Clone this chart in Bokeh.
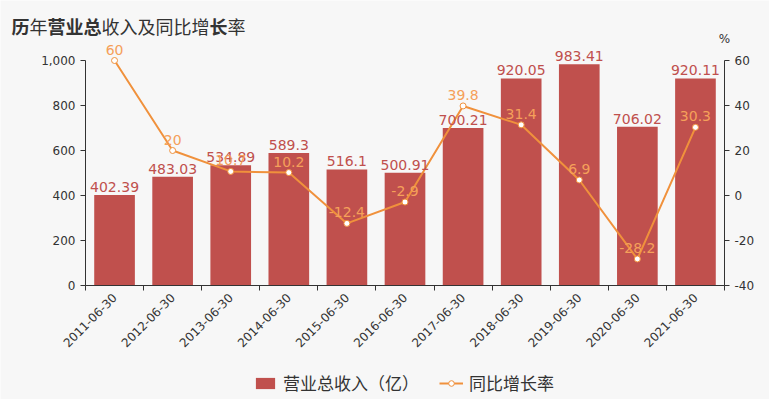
from math import pi
from bokeh.plotting import figure
from bokeh.models import (ColumnDataSource, Range1d, LinearAxis, FixedTicker,
                          NumeralTickFormatter, Label, LabelSet, Legend, LegendItem)
from bokeh.core.properties import value
from bokeh.embed import file_html
from bokeh.resources import INLINE

categories = ["2011-06-30", "2012-06-30", "2013-06-30", "2014-06-30", "2015-06-30",
              "2016-06-30", "2017-06-30", "2018-06-30", "2019-06-30", "2020-06-30",
              "2021-06-30"]
revenue = [402.39, 483.03, 534.89, 589.3, 516.1, 500.91, 700.21, 920.05, 983.41, 706.02, 920.11]
growth = [60, 20, 10.7, 10.2, -12.4, -2.9, 39.8, 31.4, 6.9, -28.2, 30.3]
left_ticks = [0, 200, 400, 600, 800, 1000]
right_ticks = [-40, -20, 0, 20, 40, 60]
title_parts = ["历", "年", "营业总", "收入及同比增", "长", "率"]
title_weights = ["bold", "normal", "bold", "normal", "bold", "normal"]

BAR = "#c0504d"
LINE = "#f0913c"
BG = "#f7f7f7"
TXT = "#333333"
NUM_FONT = "DejaVu Sans"
CJK_FONT = "Noto Sans CJK SC"

# canvas and axis placement (pixels)
W, H = 769, 399
PX_L, PX_R, PY_T, PY_B = 85, 724, 60, 285

n = len(categories)
centers = [i + 0.5 for i in range(n)]
bounds = [i for i in range(n + 1)]
lmin, lmax = left_ticks[0], left_ticks[-1]
rmin, rmax = right_ticks[0], right_ticks[-1]

xpp = n / (PX_R - PX_L)
lpp = (lmax - lmin) / (PY_B - PY_T)
rpp = (rmax - rmin) / (PY_B - PY_T)

src = ColumnDataSource(dict(
    x=centers, rev=revenue, gr=growth,
    rev_lbl=[("%g" % v) for v in revenue],
    gr_lbl=[("%g" % v) for v in growth],
))

p = figure(width=W, height=H, output_backend="svg", toolbar_location=None,
           x_range=Range1d(-PX_L * xpp, n + (W - PX_R) * xpp),
           y_range=Range1d(lmin - (H - PY_B) * lpp, lmax + PY_T * lpp),
           x_axis_location=None, y_axis_location=None,
           min_border=0, min_border_left=0, min_border_right=0,
           min_border_top=0, min_border_bottom=0)
p.background_fill_color = BG
p.border_fill_color = BG
p.outline_line_color = None
p.grid.visible = False
p.extra_y_ranges = {"pct": Range1d(rmin - (H - PY_B) * rpp, rmax + PY_T * rpp)}


def style_axis(ax):
    ax.axis_line_color = TXT
    ax.major_tick_line_color = TXT
    ax.major_label_text_font = NUM_FONT
    ax.major_label_text_font_size = "12px"
    ax.major_label_text_color = TXT


xa = LinearAxis(ticker=FixedTicker(ticks=centers, minor_ticks=bounds),
                fixed_location=lmin, bounds=(0, n))
style_axis(xa)
xa.major_label_overrides = {c: lab for c, lab in zip(centers, categories)}
xa.major_tick_out = 0
xa.major_tick_in = 0
xa.minor_tick_out = 5
xa.minor_tick_in = 0
xa.minor_tick_line_color = TXT
xa.major_label_orientation = pi / 4
p.add_layout(xa, "below")

ya = LinearAxis(ticker=FixedTicker(ticks=left_ticks), fixed_location=0,
                bounds=(lmin, lmax), formatter=NumeralTickFormatter(format="0,0"))
style_axis(ya)
ya.minor_tick_line_color = None
ya.major_tick_out = 5
ya.major_tick_in = 0
p.add_layout(ya, "left")

ra = LinearAxis(y_range_name="pct", ticker=FixedTicker(ticks=right_ticks), fixed_location=n,
                bounds=(rmin, rmax), formatter=NumeralTickFormatter(format="0"))
style_axis(ra)
ra.minor_tick_line_color = None
ra.major_tick_out = 5
ra.major_tick_in = 0
p.add_layout(ra, "right")

bars = p.vbar(x="x", top="rev", bottom=lmin, width=0.7, source=src,
              fill_color=BAR, line_color=None)
p.add_layout(LabelSet(x="x", y="rev", text="rev_lbl", source=src, text_align="center",
                      text_baseline="bottom", y_offset=3, text_color="#c0504d",
                      text_font=value(NUM_FONT), text_font_size="14px"))

ln = p.line(x="x", y="gr", source=src, y_range_name="pct", line_color=LINE, line_width=2)
pts = p.scatter(x="x", y="gr", source=src, y_range_name="pct", size=6,
                fill_color="white", line_color=LINE, line_width=1)
p.add_layout(LabelSet(x="x", y="gr", text="gr_lbl", source=src, y_range_name="pct",
                      text_align="center", text_baseline="bottom", y_offset=6,
                      text_color="#f5a05a", text_font=value(NUM_FONT), text_font_size="14px"))

# title with mixed weights (CJK glyphs are 1em wide)
fs = 18
cx = 11
for txt, wt in zip(title_parts, title_weights):
    p.add_layout(Label(x=cx, y=H - 25, x_units="screen", y_units="screen", text=txt,
                       text_font=CJK_FONT, text_font_size="%dpx" % fs, text_font_style=wt,
                       text_color=TXT, text_baseline="alphabetic"))
    cx += fs * len(txt)

p.add_layout(Label(x=PX_R, y=H - 45, x_units="screen", y_units="screen", text="%",
                   text_font=NUM_FONT, text_font_size="12px", text_color=TXT,
                   text_align="center", text_baseline="bottom"))

legend = Legend(items=[LegendItem(label=value("营业总收入（亿）"), renderers=[bars]),
                       LegendItem(label=value("同比增长率"), renderers=[ln, pts])],
                orientation="horizontal", location=(253, 4), padding=0, margin=0,
                spacing=20, glyph_width=24, glyph_height=14, label_standoff=6,
                label_text_font=CJK_FONT, label_text_font_size="17px",
                label_text_color=TXT, background_fill_alpha=0,
                border_line_color=None)
p.add_layout(legend, "center")

open("out.html", "w").write(file_html(p, INLINE))
